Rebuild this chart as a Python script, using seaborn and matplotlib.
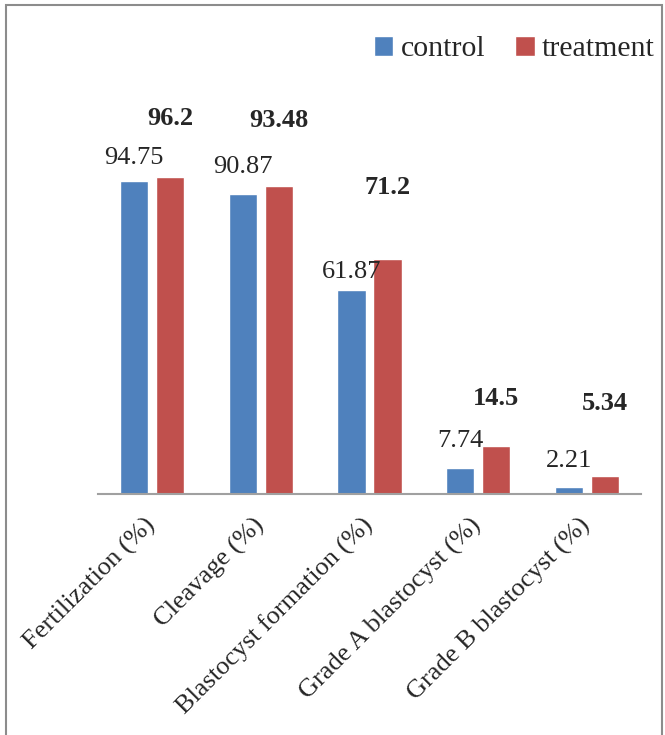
import matplotlib
matplotlib.use("Agg")
import matplotlib.pyplot as plt
import pandas as pd
import seaborn as sns
from matplotlib.patches import Rectangle

categories = [
    "Fertilization (%)",
    "Cleavage (%)",
    "Blastocyst formation (%)",
    "Grade A blastocyst (%)",
    "Grade B blastocyst (%)",
]
control = [94.75, 90.87, 61.87, 7.74, 2.21]
treatment = [96.2, 93.48, 71.2, 14.5, 5.34]
series = ["control", "treatment"]

# label heights above each bar, in pixels (hand placed in the original)
control_offsets = [23, 27, 18, 27, 26]
treatment_offsets = [58, 65, 72, 48, 73]

df = pd.DataFrame({
    "category": categories * 2,
    "value": control + treatment,
    "group": [series[0]] * len(categories) + [series[1]] * len(categories),
})

sns.set_theme(style="white")
plt.rcParams["font.family"] = ["Liberation Serif", "DejaVu Serif"]
plt.rcParams["font.size"] = 19

fig = plt.figure(figsize=(6.65, 7.35), dpi=100)
ax = fig.add_axes([98 / 665, 241 / 735, 543 / 665, 330 / 735])

sns.barplot(
    data=df, x="category", y="value", hue="group",
    palette=["#4F81BD", "#C0504D"], width=0.666, gap=0.22,
    order=categories, hue_order=series, ax=ax, saturation=1,
)
ax.set_xlim(-0.5, len(categories) - 0.5)
ax.set_ylim(0, 100)

for container, offsets, weight in zip(ax.containers, [control_offsets, treatment_offsets], ["normal", "bold"]):
    for bar, off in zip(container, offsets):
        h = bar.get_height()
        ax.annotate(
            f"{h:g}", (bar.get_x() + bar.get_width() / 2, h),
            xytext=(0, off), textcoords="offset pixels",
            ha="center", va="center", fontsize=19, fontweight=weight,
            annotation_clip=False,
        )

for side in ["left", "top", "right"]:
    ax.spines[side].set_visible(False)
ax.spines["bottom"].set_color("#A0A0A0")
ax.spines["bottom"].set_linewidth(1.5)
ax.set_yticks([])
ax.set_xlabel("")
ax.set_ylabel("")
ax.tick_params(axis="x", length=0, pad=20)
plt.setp(ax.get_xticklabels(), rotation=45, ha="right", va="center",
         rotation_mode="anchor", fontsize=19)

ax.legend(
    loc="center right", bbox_to_anchor=(655 / 665, 1 - 49 / 735),
    bbox_transform=fig.transFigure, ncol=2, frameon=False,
    borderpad=0, borderaxespad=0,
    handlelength=0.65, handleheight=0.65, handletextpad=0.25,
    columnspacing=1.0, fontsize=21.5,
)

# chart frame, cut off at the bottom of the image
fig.patches.append(Rectangle(
    (6 / 665, -0.1), 656 / 665, 1.1 - 5 / 735,
    transform=fig.transFigure, fill=False, edgecolor="#8C8C8C", linewidth=1.5,
))

fig.savefig("out.png", dpi=100)
